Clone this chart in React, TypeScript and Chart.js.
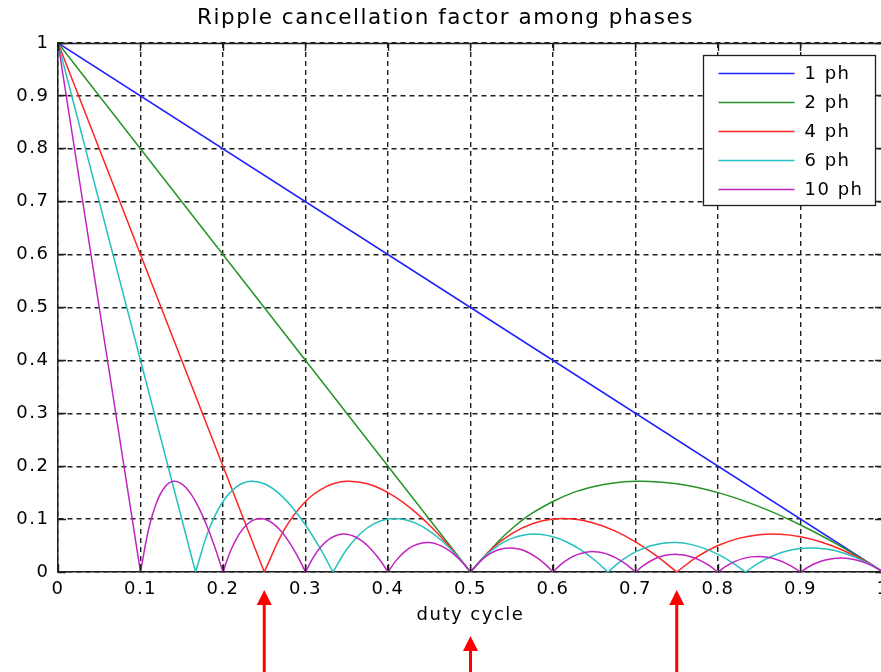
import React, { useEffect, useRef } from 'react';
import { Chart, registerables } from 'chart.js';

Chart.register(...registerables);

const FONT = "'DejaVu Sans', 'Liberation Sans', Arial, sans-serif";

const chartTitle = 'Ripple cancellation factor among phases';
const xAxisTitle = 'duty cycle';

const xTickValues = [0, 0.1, 0.2, 0.3, 0.4, 0.5, 0.6, 0.7, 0.8, 0.9, 1];
const xTickLabels = ['0', '0.1', '0.2', '0.3', '0.4', '0.5', '0.6', '0.7', '0.8', '0.9', '1'];
const yTickValues = [0, 0.1, 0.2, 0.3, 0.4, 0.5, 0.6, 0.7, 0.8, 0.9, 1];
const yTickLabels = ['0', '0.1', '0.2', '0.3', '0.4', '0.5', '0.6', '0.7', '0.8', '0.9', '1'];

const seriesLabels = ['1 ph', '2 ph', '4 ph', '6 ph', '10 ph'];
const seriesColors = ['#2222ff', '#259325', '#ff2424', '#24c0c0', '#c024c0'];

// Each curve is read as separate pieces (straight drop, then arcs between the
// zero crossings); a null value separates the pieces so every cusp stays sharp.

// 1 phase
const ph1D = [0, 1];
const ph1K = [1, 0];

// 2 phases
const ph2D = [
  0, 0.5, 0.5,
  0.5, 0.55, 0.6, 0.65, 0.7, 0.75, 0.8, 0.85, 0.9, 0.95, 1,
];
const ph2K = [
  1, 0, null,
  0, 0.0818, 0.1333, 0.1615, 0.1714, 0.1667, 0.15, 0.1235, 0.0889, 0.0474, 0,
];

// 4 phases
const ph4D = [
  0, 0.25, 0.25,
  0.25, 0.275, 0.3, 0.325, 0.35, 0.375, 0.4, 0.425, 0.45, 0.475, 0.5, 0.5,
  0.5, 0.525, 0.55, 0.575, 0.6, 0.625, 0.65, 0.675, 0.7, 0.725, 0.75, 0.75,
  0.75, 0.775, 0.8, 0.825, 0.85, 0.875, 0.9, 0.925, 0.95, 0.975, 1,
];
const ph4K = [
  1, 0, null,
  0, 0.0818, 0.1333, 0.1615, 0.1714, 0.1667, 0.15, 0.1235, 0.0889, 0.0474, 0, null,
  0, 0.0429, 0.0727, 0.0913, 0.1, 0.1, 0.0923, 0.0778, 0.0571, 0.031, 0, null,
  0, 0.029, 0.05, 0.0636, 0.0706, 0.0714, 0.0667, 0.0568, 0.0421, 0.0231, 0,
];

// 6 phases
const ph6D = [
  0, 0.1667, 0.1667,
  0.1667, 0.1833, 0.2, 0.2167, 0.2333, 0.25, 0.2667, 0.2833, 0.3, 0.3167, 0.3333, 0.3333,
  0.3333, 0.35, 0.3667, 0.3833, 0.4, 0.4167, 0.4333, 0.45, 0.4667, 0.4833, 0.5, 0.5,
  0.5, 0.5167, 0.5333, 0.55, 0.5667, 0.5833, 0.6, 0.6167, 0.6333, 0.65, 0.6667, 0.6667,
  0.6667, 0.6833, 0.7, 0.7167, 0.7333, 0.75, 0.7667, 0.7833, 0.8, 0.8167, 0.8333, 0.8333,
  0.8333, 0.85, 0.8667, 0.8833, 0.9, 0.9167, 0.9333, 0.95, 0.9667, 0.9833, 1,
];
const ph6K = [
  1, 0, null,
  0, 0.0818, 0.1333, 0.1615, 0.1714, 0.1667, 0.15, 0.1235, 0.0889, 0.0474, 0, null,
  0, 0.0429, 0.0727, 0.0913, 0.1, 0.1, 0.0923, 0.0778, 0.0571, 0.031, 0, null,
  0, 0.029, 0.05, 0.0636, 0.0706, 0.0714, 0.0667, 0.0568, 0.0421, 0.0231, 0, null,
  0, 0.022, 0.0381, 0.0488, 0.0545, 0.0556, 0.0522, 0.0447, 0.0333, 0.0184, 0, null,
  0, 0.0176, 0.0308, 0.0396, 0.0444, 0.0455, 0.0429, 0.0368, 0.0276, 0.0153, 0,
];

// 10 phases
const ph10D = [
  0, 0.1, 0.1,
  0.1, 0.11, 0.12, 0.13, 0.14, 0.15, 0.16, 0.17, 0.18, 0.19, 0.2, 0.2,
  0.2, 0.21, 0.22, 0.23, 0.24, 0.25, 0.26, 0.27, 0.28, 0.29, 0.3, 0.3,
  0.3, 0.31, 0.32, 0.33, 0.34, 0.35, 0.36, 0.37, 0.38, 0.39, 0.4, 0.4,
  0.4, 0.41, 0.42, 0.43, 0.44, 0.45, 0.46, 0.47, 0.48, 0.49, 0.5, 0.5,
  0.5, 0.51, 0.52, 0.53, 0.54, 0.55, 0.56, 0.57, 0.58, 0.59, 0.6, 0.6,
  0.6, 0.61, 0.62, 0.63, 0.64, 0.65, 0.66, 0.67, 0.68, 0.69, 0.7, 0.7,
  0.7, 0.71, 0.72, 0.73, 0.74, 0.75, 0.76, 0.77, 0.78, 0.79, 0.8, 0.8,
  0.8, 0.81, 0.82, 0.83, 0.84, 0.85, 0.86, 0.87, 0.88, 0.89, 0.9, 0.9,
  0.9, 0.91, 0.92, 0.93, 0.94, 0.95, 0.96, 0.97, 0.98, 0.99, 1,
];
const ph10K = [
  1, 0, null,
  0, 0.0818, 0.1333, 0.1615, 0.1714, 0.1667, 0.15, 0.1235, 0.0889, 0.0474, 0, null,
  0, 0.0429, 0.0727, 0.0913, 0.1, 0.1, 0.0923, 0.0778, 0.0571, 0.031, 0, null,
  0, 0.029, 0.05, 0.0636, 0.0706, 0.0714, 0.0667, 0.0568, 0.0421, 0.0231, 0, null,
  0, 0.022, 0.0381, 0.0488, 0.0545, 0.0556, 0.0522, 0.0447, 0.0333, 0.0184, 0, null,
  0, 0.0176, 0.0308, 0.0396, 0.0444, 0.0455, 0.0429, 0.0368, 0.0276, 0.0153, 0, null,
  0, 0.0148, 0.0258, 0.0333, 0.0375, 0.0385, 0.0364, 0.0313, 0.0235, 0.013, 0, null,
  0, 0.0127, 0.0222, 0.0288, 0.0324, 0.0333, 0.0316, 0.0273, 0.0205, 0.0114, 0, null,
  0, 0.0111, 0.0195, 0.0253, 0.0286, 0.0294, 0.0279, 0.0241, 0.0182, 0.0101, 0, null,
  0, 0.0099, 0.0174, 0.0226, 0.0255, 0.0263, 0.025, 0.0216, 0.0163, 0.0091, 0,
];

const seriesD = [ph1D, ph2D, ph4D, ph6D, ph10D];
const seriesK: (number | null)[][] = [ph1K, ph2K, ph4K, ph6K, ph10K];

// duty cycles marked by the red arrows below the axis
const arrowDuty = [0.25, 0.5, 0.75];
const arrowTipOffset = [18, 64, 18];

const LETTER_SPACING = '1.5px';
const AXIS_COLOR = '#1e1e1e';

const spacingPlugin = {
  id: 'letterSpacing',
  beforeUpdate(chart: any) {
    chart.ctx.letterSpacing = LETTER_SPACING;
  },
  beforeLayout(chart: any) {
    chart.ctx.letterSpacing = LETTER_SPACING;
  },
  beforeDraw(chart: any) {
    chart.ctx.letterSpacing = LETTER_SPACING;
  },
};

const align = (p: number) => Math.round(p - 0.5) + 0.5;

const decorPlugin = {
  id: 'matlabDecor',
  afterDraw(chart: any) {
    const { ctx, chartArea: a, scales } = chart;
    const xs = scales.x;
    const ys = scales.y;
    ctx.save();
    ctx.letterSpacing = LETTER_SPACING;

    // box (top & right edges) and inward ticks
    ctx.strokeStyle = AXIS_COLOR;
    ctx.lineWidth = 1.5;
    ctx.setLineDash([]);
    ctx.beginPath();
    ctx.moveTo(a.left, align(a.top));
    ctx.lineTo(a.right, align(a.top));
    ctx.moveTo(align(a.right), a.top);
    ctx.lineTo(align(a.right), a.bottom);
    ctx.stroke();
    ctx.lineWidth = 1.4;
    ctx.beginPath();
    const tl = 8;
    xTickValues.forEach((v) => {
      const px = align(xs.getPixelForValue(v));
      ctx.moveTo(px, a.bottom);
      ctx.lineTo(px, a.bottom - tl);
      ctx.moveTo(px, a.top);
      ctx.lineTo(px, a.top + tl);
    });
    yTickValues.forEach((v) => {
      const py = align(ys.getPixelForValue(v));
      ctx.moveTo(a.left, py);
      ctx.lineTo(a.left + tl, py);
      ctx.moveTo(a.right, py);
      ctx.lineTo(a.right - tl, py);
    });
    ctx.stroke();

    // legend box
    const bw = 172;
    const bh = 150;
    const bx = Math.round(a.right - 8 - bw) + 0.5;
    const by = Math.round(a.top + 12) + 0.5;
    ctx.fillStyle = '#fff';
    ctx.fillRect(bx, by, bw, bh);
    ctx.strokeStyle = AXIS_COLOR;
    ctx.lineWidth = 1.3;
    ctx.strokeRect(bx, by, bw, bh);
    ctx.font = `18px ${FONT}`;
    ctx.textBaseline = 'middle';
    ctx.textAlign = 'left';
    chart.data.datasets.forEach((ds: any, i: number) => {
      const ry = Math.round(by + 17 + i * 29) + 0.5;
      ctx.strokeStyle = ds.borderColor;
      ctx.lineWidth = 1.5;
      ctx.beginPath();
      ctx.moveTo(bx + 15, ry);
      ctx.lineTo(bx + 91, ry);
      ctx.stroke();
      ctx.fillStyle = '#000';
      ctx.fillText(ds.label, bx + 101, ry + 1);
    });

    // red arrows
    ctx.fillStyle = '#ff0000';
    arrowDuty.forEach((d, i) => {
      const x = xs.getPixelForValue(d);
      const tip = a.bottom + arrowTipOffset[i];
      ctx.beginPath();
      ctx.moveTo(x, tip);
      ctx.lineTo(x - 7.5, tip + 15);
      ctx.lineTo(x + 7.5, tip + 15);
      ctx.closePath();
      ctx.fill();
      ctx.fillRect(x - 1.5, tip + 14, 3, chart.height - tip - 14);
    });
    ctx.restore();
  },
};

export default function App() {
  const canvasRef = useRef<HTMLCanvasElement | null>(null);

  useEffect(() => {
    const canvas = canvasRef.current;
    if (!canvas) return;
    const datasets = seriesLabels.map((label, i) => ({
      label,
      data: seriesD[i].map((d, j) => ({ x: d, y: seriesK[i][j] })),
      borderColor: seriesColors[i],
      backgroundColor: seriesColors[i],
      borderWidth: 1.5,
      pointRadius: 0,
      tension: 0.4,
      spanGaps: false,
      fill: false,
      order: seriesLabels.length - i,
    }));

    const chart = new Chart(canvas, {
      type: 'line',
      data: { datasets },
      plugins: [spacingPlugin, decorPlugin],
      options: {
        animation: false,
        responsive: false,
        devicePixelRatio: 1,
        events: [],
        layout: { padding: { left: 8, right: 17, top: 0, bottom: 40 } },
        plugins: {
          legend: { display: false },
          tooltip: { enabled: false },
          title: {
            display: true,
            text: chartTitle,
            color: '#000',
            font: { family: FONT, size: 21.5, weight: 'normal', lineHeight: 1.2 },
            padding: { top: 6, bottom: 11.2 },
          },
        },
        scales: {
          x: {
            type: 'linear',
            min: 0,
            max: 1,
            afterBuildTicks: (s: any) => {
              s.ticks = xTickValues.map((v) => ({ value: v }));
            },
            afterFit: (s: any) => {
              s.height = 60;
            },
            ticks: {
              autoSkip: false,
              maxRotation: 0,
              padding: 7,
              color: '#000',
              font: { family: FONT, size: 18, lineHeight: 1.2 },
              callback: (_v: any, i: number) => xTickLabels[i],
            },
            grid: { color: AXIS_COLOR, lineWidth: 1.4, drawTicks: false },
            border: { display: true, color: AXIS_COLOR, width: 1.5, dash: [5, 4] },
            title: {
              display: true,
              text: xAxisTitle,
              color: '#000',
              font: { family: FONT, size: 18, lineHeight: 1.2 },
              padding: { top: 0, bottom: 5.9 },
            },
          },
          y: {
            type: 'linear',
            min: 0,
            max: 1,
            afterBuildTicks: (s: any) => {
              s.ticks = yTickValues.map((v) => ({ value: v }));
            },
            afterFit: (s: any) => {
              s.width = 50;
            },
            ticks: {
              autoSkip: false,
              padding: 8.5,
              color: '#000',
              font: { family: FONT, size: 18, lineHeight: 1.2 },
              callback: (_v: any, i: number) => yTickLabels[i],
            },
            grid: { color: AXIS_COLOR, lineWidth: 1.4, drawTicks: false },
            border: { display: true, color: AXIS_COLOR, width: 1.5, dash: [5, 4] },
          },
        },
      } as any,
    });
    return () => chart.destroy();
  }, []);

  return (
    <div
      style={{
        position: 'fixed',
        left: 0,
        top: 0,
        width: 881,
        height: 672,
        overflow: 'hidden',
        background: '#fff',
      }}
    >
      <canvas ref={canvasRef} width={900} height={672} style={{ display: 'block', width: 900, height: 672 }} />
    </div>
  );
}
